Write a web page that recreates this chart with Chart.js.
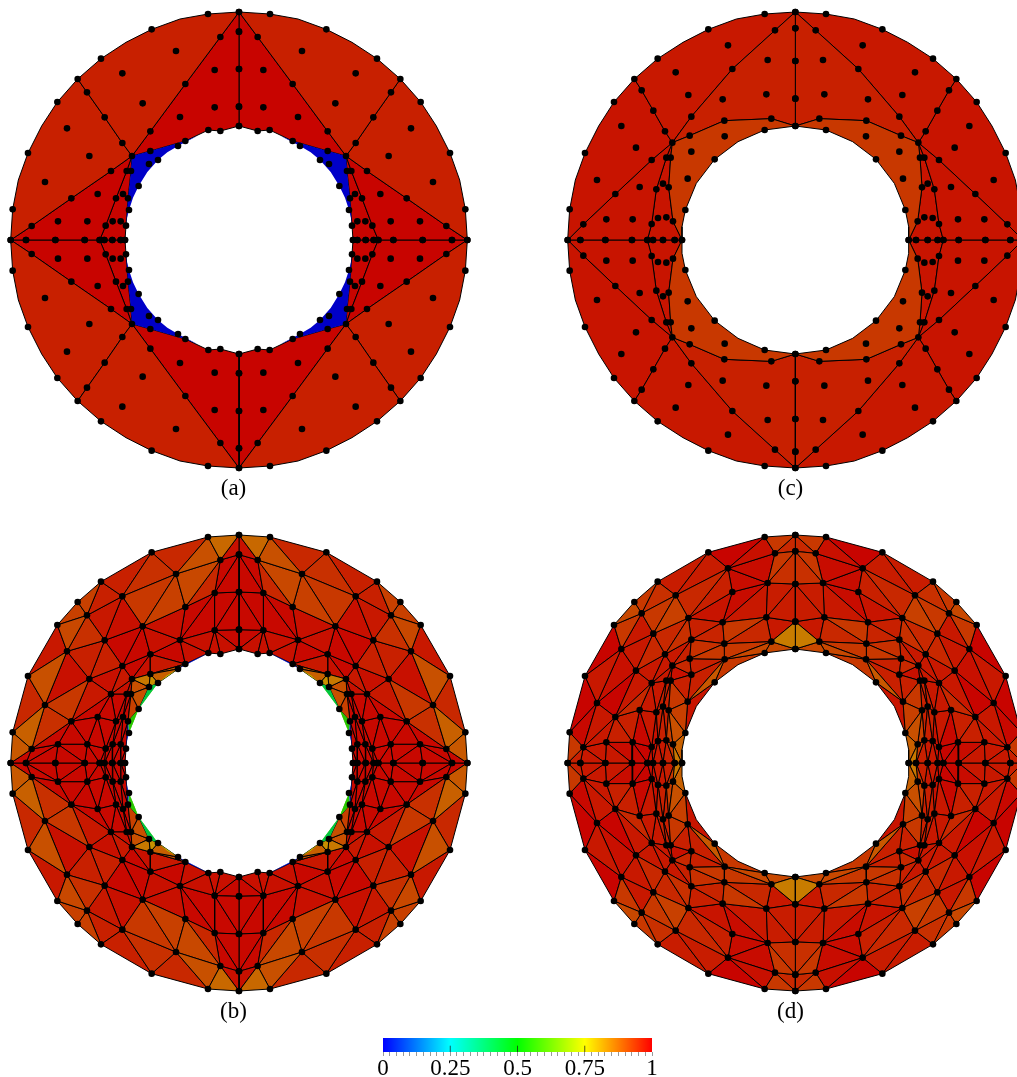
<!DOCTYPE html>
<html><head><meta charset="utf-8">
<script src="https://cdn.jsdelivr.net/npm/chart.js@4"></script>
<style>
html,body{margin:0;padding:0;background:#fff;width:1017px;height:1077px;overflow:hidden}
canvas{position:absolute;display:block}
</style></head><body>
<canvas id="pa"></canvas><canvas id="pc"></canvas><canvas id="pb"></canvas><canvas id="pd"></canvas><canvas id="bar"></canvas>
<script>
// Mesh nodes of one quadrant (mirrored to the other three), distance left of and above the centre
const nodesAB=[[685,0],[679,92],[633,261],[545,414],[484,483],[414,544],[262,632],[93,678],[0,684],
[639,0],[551,0],[463,0],[418,0],[404,0],[380,0],[355,0],[342,0],[0,625],[0,513],[0,400],[0,342],
[321,252],[56,609],[161,468],[266,326],[350,291],[403,368],[456,443],[384,207],[503,125],[622,42],
[337,207],[369,125],[400,43],[324,207],[333,125],[339,43],[266,267],[161,297],[56,327],[330,90],
[301,162],[243,240],[183,282],[92,330],[350,500],[289,410],[189,567],[516,335],[449,252],[582,174],
[424,138],[543,56],[455,56],[348,138],[379,56],[355,56],[177,369],[73,510],[73,398],[270,228]];
// Extra unmarked vertices of the curved element outlines (ids continue after the nodes)
const outlineAB=[[177,663],[339,593],[592,342],[662,180],[215,263],[275,204],[318,127],[125,312],[336,67]];
const nodesCD=[[683,0],[677,92],[631,261],[544,414],[483,483],[413,544],[261,632],[92,678],[0,684],
[645,0],[570,0],[490,0],[444,0],[427,0],[397,0],[362,0],[340,0],[0,635],[0,537],[0,424],[0,342],
[369,292],[61,629],[189,513],[312,370],[391,326],[426,388],[461,449],[431,240],[540,138],[636,47],
[387,247],[417,152],[431,48],[374,247],[380,158],[367,56],[317,313],[213,358],[72,364],[330,90],
[323,184],[242,242],[212,311],[92,330],[359,503],[321,435],[202,584],[522,342],[478,277],[595,180],
[467,159],[567,62],[488,62],[397,169],[412,66],[387,68],[218,422],[83,540],[87,437],[312,265]];
const outlineCD=[[177,663],[337,593],[590,342],[660,180],[172,295],[297,170],[340,40]];

// Elements: node ids, and last entry the quality shown by the colour bar
const elementsA=[
[8,7,61,6,62,5,4,27,26,25,21,24,23,22,.96],
[4,3,63,2,64,1,0,30,29,28,21,25,26,27,.96],
[8,22,23,24,21,37,38,44,39,20,19,18,17,.995],
[0,9,10,11,12,33,32,31,21,28,29,30,.995],
[12,13,14,15,16,36,35,34,21,31,32,33,.995],
[21,37,38,68,43,65,42,66,41,67,40,69,36,35,34,0]];
const elementsC=[
[8,7,61,6,62,5,4,27,26,25,21,24,23,22,.97],
[4,3,63,2,64,1,0,30,29,28,21,25,26,27,.975],
[8,22,23,24,21,37,38,39,20,19,18,17,.96],
[0,9,10,11,12,33,32,31,21,28,29,30,.975],
[12,13,14,15,16,36,35,34,21,31,32,33,.975],
[21,37,38,39,20,44,65,42,66,40,67,16,36,35,34,.93]];
const elementsB=[
[8,7,22,.87],[7,47,22,.90],[7,6,47,.95],[6,45,47,.94],[47,23,22,.91],[47,45,46,.93],[47,46,23,.92],
[5,6,45,.96],[5,45,27,.96],[4,5,27,.92],[3,4,27,.92],[3,27,48,.91],[2,3,48,.97],[2,48,50,.90],
[1,2,50,.95],[1,50,30,.88],[0,1,30,.89],[50,48,49,.98],[48,27,26,.94],[48,26,49,.96],[27,45,26,.97],
[45,46,26,.98],[26,46,25,.99],[26,25,49,.96],[46,57,23,.98],[46,24,57,.98],[46,25,24,.99],[23,58,57,.99],
[23,22,58,.95],[22,17,58,.99],[8,22,17,.98],[17,18,58,.99],[18,19,59,.99],[18,59,58,.99],[58,59,57,.99],
[57,59,44,.98],[59,39,44,.98],[59,20,39,.98],[59,19,20,.99],[57,44,38,.98],[57,38,24,.99],[24,38,37,.97],
[24,37,21,.98],[24,21,25,.99],[37,38,43,.89],[21,37,60,.85],[37,43,42,.88],[37,42,60,.82],[38,44,68,43,.02],
[60,42,41,.42],[34,60,41,.9],[21,34,60,.9],[35,34,41,.92],[35,41,40,.55],[35,40,69,36,.05],
[42,65,43,.74],[41,66,42,.66],[40,67,41,.6],
[34,21,31,.98],[31,21,28,.98],[28,21,25,.97],[28,25,49,.98],[49,29,50,.93],[49,28,29,.97],[50,29,30,.94],
[30,29,52,.99],[0,30,9,.99],[30,52,9,.99],[9,52,10,.99],[10,52,11,.99],[52,53,11,.99],[52,29,53,.99],
[29,51,53,.99],[29,28,51,.99],[28,32,51,.99],[28,31,32,.99],[31,54,32,.99],[31,34,54,.99],[34,35,54,.99],
[51,33,53,.99],[51,32,33,.99],[53,33,12,.99],[53,12,11,.99],[33,13,12,.99],[33,55,13,.99],[32,55,33,.99],
[32,54,55,.99],[54,56,55,.99],[54,35,56,.99],[35,36,56,.99],[55,14,13,.99],[55,56,14,.99],[56,15,14,.99],
[56,36,15,.99],[36,16,15,.99]];
const elementsD=[
[8,7,22,.93],[7,47,22,.98],[6,7,47,.995],[6,45,47,.965],[5,6,45,.965],[4,5,27,.93],[5,27,45,.94],[3,4,27,.91],
[47,22,58,.985],[47,58,23,.985],[22,17,58,.93],[8,22,17,.95],[17,18,58,.94],[58,18,59,.965],[18,19,59,.965],
[45,47,46,.95],[46,47,23,.96],[23,57,58,.985],[58,57,59,.97],[46,23,57,.975],[27,45,26,.93],[45,46,26,.92],
[3,27,48,.93],[48,27,26,.97],[2,3,48,.995],[2,48,50,.97],[48,50,49,.98],[48,26,49,.97],[49,26,25,.95],
[26,46,25,.95],[46,25,24,.94],[46,24,57,.96],[24,57,38,.955],[57,38,59,.93],[38,59,39,.95],[59,19,39,.97],
[19,39,20,.845],[38,39,43,.93],[39,44,20,.91],[43,39,44,.91],[43,44,65,42,.93],[24,38,37,.94],[37,38,43,.93],
[25,24,21,.97],[24,37,21,.96],[21,37,60,.95],[37,43,60,.96],[60,43,41,.96],[43,42,41,.89],[41,42,66,40,.975],[21,60,34,.98],
[34,60,41,.96],[34,41,35,.93],[41,40,35,.92],[35,40,36,.9],[36,40,67,16,.88],[36,16,15,.85],[21,25,28,.97],
[25,49,28,.97],[21,28,31,.97],[21,31,34,.97],[1,50,30,.99],[1,2,50,.995],[0,1,30,.93],[50,49,29,.995],
[49,28,29,.97],[50,29,30,.97],[29,30,52,.97],[0,30,9,.96],[30,9,10,.97],[30,10,52,.97],[10,52,11,.97],
[52,53,11,.985],[52,29,53,.96],[29,51,53,.96],[29,28,51,.95],[28,32,51,.97],[28,31,32,.97],[51,33,53,.99],
[51,32,33,.97],[53,33,12,.995],[53,12,11,.99],[33,13,12,.98],[33,55,13,.98],[32,55,33,.98],[32,54,55,.96],
[31,54,32,.96],[31,34,54,.96],[34,35,54,.96],[54,56,55,.96],[54,35,56,.96],[35,36,56,.92],[55,14,13,.97],
[55,56,14,.97],[56,15,14,.96],[56,36,15,.93]];

// Colour bar
const colorStops=[0,.25,.5,.75,1];
const colorRGB=[[0,0,255],[0,255,255],[0,255,0],[255,255,0],[255,0,0]];
const majorTicks=[0,.25,.5,.75,1];
const majorLabels=['0','0.25','0.5','0.75','1'];
const minorStep=.025;

const SHADE=.785;
function qualityColor(q){
  let i=0; while(i<colorStops.length-2&&q>colorStops[i+1])i++;
  const t=(q-colorStops[i])/(colorStops[i+1]-colorStops[i]);
  const c=colorRGB[i].map((a,k)=>Math.round((a+(colorRGB[i+1][k]-a)*t)*SHADE));
  return `rgb(${c[0]},${c[1]},${c[2]})`;
}
const quadrants=[[-1,1],[1,1],[-1,-1],[1,-1]];
const serif='"Liberation Serif","DejaVu Serif",serif';

function meshChart(id,cfg){
  const cv=document.getElementById(id);
  cv.width=499;cv.height=503;
  cv.style.left=cfg.left+'px';cv.style.top=cfg.top+'px';
  const all=cfg.nodes.concat(cfg.outline);
  const datasets=[];
  const dots=[];
  quadrants.forEach(([sx,sy])=>cfg.nodes.forEach(([u,v])=>dots.push({x:sx*u,y:sy*v})));
  datasets.push({label:'nodes',data:dots,showLine:false,pointRadius:3.3,pointHitRadius:.7,pointBackgroundColor:'#000',pointBorderWidth:0,clip:false});
  // low-quality elements sit on the hole and show no outline of their own
  const ordered=cfg.elements.slice().sort((a,b)=>a[a.length-1]-b[b.length-1]);
  quadrants.forEach(([sx,sy])=>ordered.forEach(el=>{
    const ids=el.slice(0,-1),q=el[el.length-1];
    const pts=ids.concat(ids[0]).map(n=>({x:sx*all[n][0],y:sy*all[n][1]}));
    datasets.push({label:'el',data:pts,showLine:true,fill:'shape',tension:0,
      backgroundColor:qualityColor(q),borderColor:q<.8?'rgba(0,0,0,0)':'#000',borderWidth:1,pointRadius:0,borderJoinStyle:'round'});
  }));
  new Chart(cv,{type:'scatter',data:{datasets},options:{
    responsive:false,animation:false,events:[],layout:{padding:0},
    scales:{x:{type:'linear',display:false,min:cfg.xmin,max:cfg.xmin+1473},
            y:{type:'linear',display:false,min:-711,max:717}},
    plugins:{legend:{display:false},tooltip:{enabled:false},
      title:{display:true,position:'bottom',text:cfg.label,color:'#000',padding:0,
             font:{family:serif,size:23,weight:'normal',lineHeight:1}}}
  }});
}
meshChart('pa',{left:-16,top:-3,xmin:-753,nodes:nodesAB,outline:outlineAB,elements:elementsA,label:'(a)'});
meshChart('pc',{left:541,top:-3,xmin:-751,nodes:nodesCD,outline:outlineCD,elements:elementsC,label:'(c)'});
meshChart('pb',{left:-16,top:520,xmin:-753,nodes:nodesAB,outline:outlineAB,elements:elementsB,label:'(b)'});
meshChart('pd',{left:541,top:520,xmin:-751,nodes:nodesCD,outline:outlineCD,elements:elementsD,label:'(d)'});

// Colour bar chart
(function(){
  const cv=document.getElementById('bar');
  cv.width=310;cv.height=56;cv.style.left='363px';cv.style.top='1024px';
  const datasets=[];
  majorTicks.slice(1,-1).forEach(t=>datasets.push({data:[{x:t,y:0},{x:t,y:.45}],showLine:true,pointRadius:0,borderColor:'rgba(30,30,30,.75)',borderWidth:1}));
  datasets.push({data:[{x:0,y:0},{x:1,y:0},{x:1,y:1},{x:0,y:1},{x:0,y:0}],showLine:true,fill:'shape',pointRadius:0,borderWidth:0,
    backgroundColor(c){const a=c.chart.chartArea;if(!a)return '#f00';
      const g=c.chart.ctx.createLinearGradient(a.left,0,a.right,0);
      colorStops.forEach((s,i)=>g.addColorStop(s,`rgb(${colorRGB[i].join(',')})`));return g;}});
  new Chart(cv,{type:'scatter',data:{datasets},options:{
    responsive:false,animation:false,events:[],
    layout:{padding:{left:20,right:21,top:0,bottom:0}},
    scales:{
      y:{type:'linear',display:false,min:0,max:2},
      x:{type:'linear',min:0,max:1,border:{display:false},
         afterFit(s){s.height=28;},
         grid:{drawOnChartArea:false,drawTicks:true,tickLength:4,color:'#999',tickColor:'#999',lineWidth:1},
         ticks:{stepSize:minorStep,autoSkip:false,maxRotation:0,minRotation:0,padding:1,color:'#000',
           font:{family:serif,size:23,lineHeight:1},
           callback(v){const i=majorTicks.findIndex(t=>Math.abs(t-v)<1e-6);return i>=0?majorLabels[i]:'';}}}
    },
    plugins:{legend:{display:false},tooltip:{enabled:false}}
  }});
})();
</script>
</body></html>
